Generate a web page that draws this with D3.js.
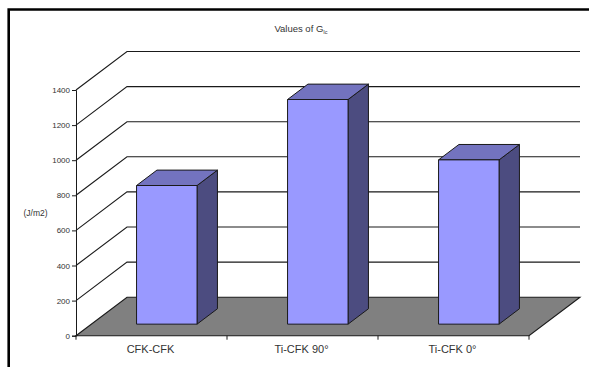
<!DOCTYPE html>
<html>
<head>
<meta charset="utf-8">
<script src="https://cdn.jsdelivr.net/npm/d3@7"></script>
<style>
  html, body { margin: 0; padding: 0; background: #fff; }
  svg { display: block; }
  text { font-family: "Liberation Sans", Arial, sans-serif; fill: #333; }
</style>
</head>
<body>
<svg id="chart" width="589" height="367"></svg>
<script>
// Fracture toughness per joint type
const categories = ["CFK-CFK", "Ti-CFK 90°", "Ti-CFK 0°"];
const giValues = [790, 1280, 936];
const tickValues = [0, 200, 400, 600, 800, 1000, 1200, 1400];

const svg = d3.select("#chart");

const y = d3.scaleLinear().domain([0, 1400]).range([335.7, 90]);
const x = d3.scaleBand().domain(categories).range([76, 529]);

// Oblique projection: depth 0 is the front of the floor, depth 1 the back wall
const depth = d3.scaleLinear().domain([0, 1]);
const dx = depth.copy().range([0, 51]);
const dy = depth.copy().range([0, -38.5]);
const barFront = 0.3, barBack = 0.7, barWidth = 60.5;
const line = d3.line();
const x0 = x.range()[0], x1 = x.range()[1];
const ink = "#1a1a1a";

// Chart frame (top and left edges)
svg.append("path")
  .attr("d", line([[8.7, 367], [8.7, 9.5], [589, 9.5]]))
  .attr("fill", "none").attr("stroke", "#000").attr("stroke-width", 2.6);

// Gridlines running along the side wall and across the back wall
svg.append("g").selectAll("path")
  .data(tickValues.slice(1))
  .join("path")
  .attr("d", v => line([
    [x0, y(v)],
    [x0 + dx(1), y(v) + dy(1)],
    [x1 + dx(1), y(v) + dy(1)]
  ]))
  .attr("fill", "none").attr("stroke", ink).attr("stroke-width", 1.1);

// Floor
svg.append("path")
  .attr("d", line([
    [x0, y(0)],
    [x0 + dx(1), y(0) + dy(1)],
    [x1 + dx(1), y(0) + dy(1)],
    [x1, y(0)]
  ]) + "Z")
  .attr("fill", "#808080").attr("stroke", ink).attr("stroke-width", 1.1);

// Value axis with its ticks
const yAxis = svg.append("g")
  .attr("transform", `translate(${x0},0)`)
  .call(d3.axisLeft(y).tickValues(tickValues).tickFormat(d3.format("d")).tickSize(4).tickPadding(2));
yAxis.selectAll("text").attr("font-size", 8).style("font-family", '"Liberation Sans", Arial, sans-serif').attr("fill", "#333");
yAxis.selectAll("line, path").attr("stroke", ink);

// Category axis
const xAxis = svg.append("g")
  .attr("transform", `translate(-1,${y(0)})`)
  .call(d3.axisBottom(x).tickSize(0).tickPadding(10));
xAxis.select("path").remove();
xAxis.selectAll("text").attr("font-size", 11).style("font-family", '"Liberation Sans", Arial, sans-serif').attr("fill", "#333");
svg.append("g").selectAll("line")
  .data(categories.map(c => x(c)).concat(x1))
  .join("line")
  .attr("x1", d => d).attr("x2", d => d)
  .attr("y1", y(0)).attr("y2", y(0) + 4)
  .attr("stroke", ink);

// Bars: front, top and side faces
const bars = svg.append("g").selectAll("g")
  .data(categories.map((c, i) => ({ c, v: giValues[i] })))
  .join("g");

const fx = d => x(d.c) + x.bandwidth() / 2 - barWidth / 2 + dx(barFront);
const fy = v => y(v) + dy(barFront);
const side = [dx(barBack) - dx(barFront), dy(barBack) - dy(barFront)];

bars.append("path")
  .attr("d", d => line([
    [fx(d) + barWidth, fy(d.v)],
    [fx(d) + barWidth + side[0], fy(d.v) + side[1]],
    [fx(d) + barWidth + side[0], fy(0) + side[1]],
    [fx(d) + barWidth, fy(0)]
  ]) + "Z")
  .attr("fill", "#4c4c80").attr("stroke", ink);

bars.append("path")
  .attr("d", d => line([
    [fx(d), fy(d.v)],
    [fx(d) + side[0], fy(d.v) + side[1]],
    [fx(d) + barWidth + side[0], fy(d.v) + side[1]],
    [fx(d) + barWidth, fy(d.v)]
  ]) + "Z")
  .attr("fill", "#7373bf").attr("stroke", ink);

bars.append("path")
  .attr("d", d => line([
    [fx(d), fy(d.v)],
    [fx(d) + barWidth, fy(d.v)],
    [fx(d) + barWidth, fy(0)],
    [fx(d), fy(0)]
  ]) + "Z")
  .attr("fill", "#9999ff").attr("stroke", ink);

// Title with subscript
const title = svg.append("text").attr("x", 301).attr("y", 32)
  .attr("text-anchor", "middle").attr("font-size", 9.5);
title.append("tspan").text("Values of G");
title.append("tspan").attr("font-size", 5.5).attr("dy", 2).text("Ic");

// Unit label
svg.append("text").attr("x", 35.5).attr("y", 216)
  .attr("text-anchor", "middle").attr("font-size", 8.5).text("(J/m2)");
</script>
</body>
</html>
